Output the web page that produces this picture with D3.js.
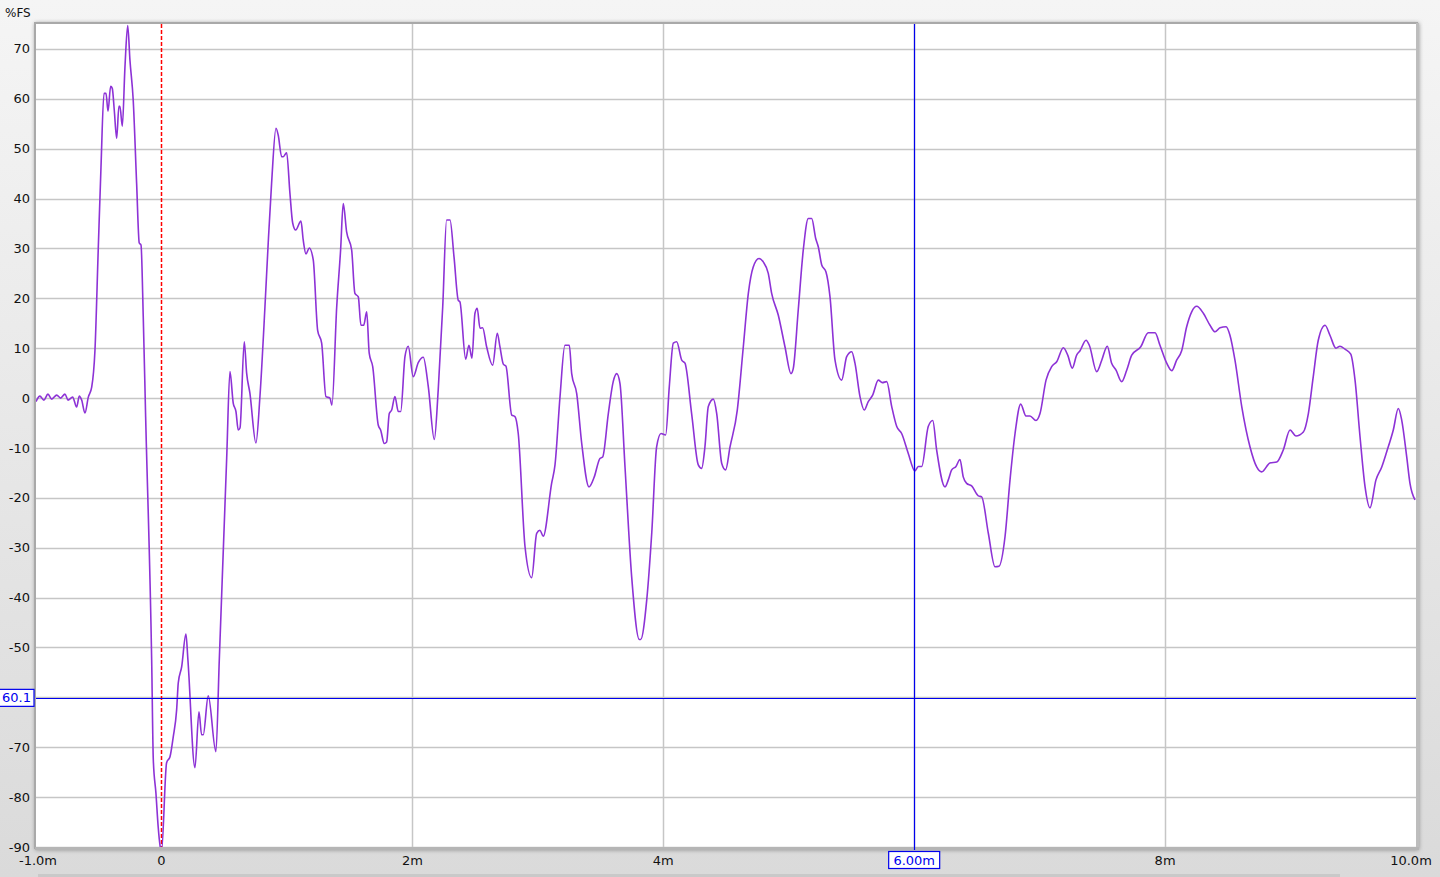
<!DOCTYPE html>
<html><head><meta charset="utf-8">
<script src="https://cdn.jsdelivr.net/npm/d3@7"></script>
<style>html,body{margin:0;padding:0;overflow:hidden;background:#e6e6e6}</style>
</head><body>
<svg id="chart" width="1440" height="877"></svg>
<script>
// ---- data (distance in metres, level in %FS) ----
const distM = [-1.0,-0.969,-0.937,-0.905,-0.875,-0.835,-0.804,-0.769,-0.745,-0.708,-0.676,-0.655,-0.636,-0.610,-0.583,-0.556,-0.530,-0.504,-0.482,-0.458,-0.442,-0.426,-0.405,-0.392,-0.376,-0.357,-0.339,-0.331,-0.312,-0.291,-0.269,-0.251,-0.225,-0.198,-0.177,-0.163,-0.145,-0.126,-0.078,-0.065,-0.044,-0.026,-0.012,0.0,0.041,0.068,0.094,0.121,0.134,0.161,0.195,0.211,0.267,0.299,0.320,0.333,0.373,0.434,0.461,0.520,0.546,0.572,0.594,0.612,0.626,0.660,0.679,0.705,0.753,0.785,0.825,0.851,0.878,0.913,0.931,0.958,0.971,0.998,1.024,1.046,1.070,1.112,1.130,1.152,1.178,1.210,1.245,1.277,1.311,1.343,1.359,1.397,1.428,1.449,1.476,1.516,1.542,1.569,1.590,1.612,1.636,1.656,1.684,1.728,1.747,1.776,1.795,1.816,1.835,1.861,1.888,1.907,1.941,1.967,2.007,2.047,2.087,2.127,2.175,2.206,2.242,2.273,2.300,2.332,2.366,2.379,2.425,2.451,2.475,2.499,2.517,2.539,2.560,2.592,2.640,2.677,2.698,2.725,2.746,2.792,2.818,2.844,2.898,2.951,2.991,3.017,3.043,3.110,3.137,3.177,3.216,3.251,3.270,3.310,3.350,3.408,3.450,3.495,3.517,3.562,3.601,3.629,3.655,3.695,3.748,3.809,3.820,3.868,3.908,3.947,3.982,4.019,4.048,4.080,4.107,4.147,4.173,4.226,4.279,4.306,4.332,4.359,4.399,4.426,4.466,4.497,4.532,4.590,4.638,4.678,4.717,4.763,4.797,4.837,4.864,4.917,4.970,5.018,5.036,5.076,5.116,5.156,5.183,5.215,5.236,5.263,5.297,5.329,5.369,5.422,5.462,5.502,5.528,5.568,5.602,5.634,5.669,5.714,5.746,5.781,5.821,5.861,5.900,5.953,6.006,6.033,6.060,6.112,6.148,6.179,6.246,6.272,6.299,6.333,6.365,6.391,6.418,6.458,6.511,6.538,6.591,6.644,6.676,6.724,6.764,6.804,6.849,6.891,6.923,6.971,7.003,7.051,7.096,7.136,7.189,7.224,7.260,7.295,7.322,7.370,7.396,7.455,7.495,7.539,7.574,7.609,7.654,7.694,7.734,7.806,7.866,7.920,7.959,8.013,8.053,8.092,8.132,8.172,8.212,8.252,8.305,8.358,8.398,8.438,8.486,8.517,8.557,8.611,8.677,8.730,8.770,8.836,8.890,8.942,8.996,9.043,9.102,9.142,9.181,9.221,9.275,9.314,9.362,9.394,9.434,9.480,9.514,9.554,9.594,9.633,9.681,9.727,9.766,9.819,9.859,9.886,9.926,9.952,9.992];
const levelFS = [-0.7,0.4,-0.4,0.8,-0.2,0.6,0,0.8,-0.4,0.2,-1.8,0.4,-0.4,-3.0,0.2,2.2,9.6,29.7,46.3,61.1,61.1,57.5,62.5,62.1,57.7,52.1,58.5,58.5,54.5,66.3,74.7,67.7,59.7,43.1,31.1,30.7,16.2,-3.8,-52.5,-72.5,-79.2,-86.0,-89.6,-91.0,-73.1,-71.9,-67.9,-62.5,-57.1,-53.9,-47.3,-52.5,-74.1,-62.9,-67.5,-67.5,-59.7,-70.9,-52.5,-12.0,5.3,-1.0,-2.7,-6.4,-6.0,11.3,5.0,1.0,-9.0,0.3,18.3,31.1,43.1,54.1,52.7,48.4,48.4,49.2,41.1,35.1,33.7,35.5,31.7,28.9,30.1,27.7,13.6,11.0,0.3,0,-1.4,18.3,29.7,39.0,33.3,29.7,21.0,20.3,14.6,14.6,17.3,9.0,6.3,-5.4,-6.4,-9.1,-8.8,-3.1,-2.4,0.3,-2.7,-2.7,8.3,10.4,4.3,7.1,8.2,2.3,-8.3,1.6,18.3,35.7,35.7,28.3,19.6,19.3,7.8,10.6,8.0,17.0,18.0,14.0,14.1,10.3,6.6,13.0,10.3,6.8,6.4,-3.4,-3.7,-7.1,-29.8,-36.0,-27.1,-26.5,-27.7,-17.1,-13.4,0.3,10.6,10.6,4.9,0.9,-9.1,-17.8,-15.8,-12.1,-11.8,-3.1,3.3,4.9,2.9,-13.8,-35.8,-48.4,-48.4,-40.5,-27.1,-9.8,-7.1,-7.4,2.3,11.0,11.3,7.6,7.0,-3.1,-13.4,-14.1,-9.8,-1.7,-0.2,-3.1,-13.1,-14.4,-9.8,-2.4,10.3,21.0,26.3,28.0,27.3,25.0,21.0,16.6,10.3,4.9,5.9,17.7,29.7,36.0,36.0,32.0,30.3,26.7,25.3,20.3,7.6,3.6,8.3,9.3,7.0,0.3,-2.4,-0.7,0.6,3.6,3.1,3.3,-1.7,-5.7,-7.1,-11.1,-14.6,-13.7,-13.7,-5.7,-4.5,-10.4,-17.8,-16.4,-14.4,-13.7,-12.3,-15.8,-17.1,-17.6,-19.6,-19.8,-27.1,-33.8,-33.7,-27.8,-16.4,-7.1,-1.2,-3.6,-3.6,-4.5,-3.1,3.6,6.3,7.3,10.1,8.6,6.0,8.6,9.5,11.6,10.6,5.3,7.6,10.4,7.0,5.6,3.3,5.6,8.6,10.3,13.1,13.1,10.6,7.0,5.5,7.6,9.5,14.3,17.3,18.4,17.0,14.6,13.3,14.1,14.3,12.6,7.6,-1.7,-9.8,-13.8,-14.8,-13.0,-12.8,-10.4,-6.4,-7.6,-6.8,-3.1,4.3,11.6,14.6,12.6,10.0,10.4,9.8,8.8,3.6,-7.8,-17.8,-22.0,-16.4,-13.8,-10.8,-6.4,-2.1,-4.4,-11.8,-17.1,-20.4];

const yGridValues = [70,60,50,40,30,20,10,0,-10,-20,-30,-40,-50,-60,-70,-80,-90];
// -60 label is hidden behind the cursor readout in the reference
const yTickValues = [70,60,50,40,30,20,10,0,-10,-20,-30,-40,-50,-70,-80,-90];
const yTickLabels = ["70","60","50","40","30","20","10","0","-10","-20","-30","-40","-50","-70","-80","-90"];
const xGridValues = [2,4,6,8];
const xTickValues = [-1,0,2,4,8,10];
const xTickLabels = ["-1.0m","0","2m","4m","8m","10.0m"];
const yUnitLabel = "%FS";
const cursorX = 6.0, cursorXLabel = "6.00m";
const cursorY = -60.1, cursorYLabel = "60.1";
const xDomain = [-1, 10], yDomain = [-90, 75];

// ---- layout ----
const W = 1440, H = 877;
const L = 36, R = 1416, T = 24, B = 847;
const svg = d3.select("#chart");
const defs = svg.append("defs");
const bg = defs.append("linearGradient").attr("id","bg").attr("x1",0).attr("y1",0).attr("x2",0).attr("y2",1);
bg.append("stop").attr("offset","0%").attr("stop-color","#f5f5f5");
bg.append("stop").attr("offset","100%").attr("stop-color","#dadada");
const sh = defs.append("filter").attr("id","sh").attr("x","-5%").attr("y","-5%").attr("width","110%").attr("height","110%");
sh.append("feGaussianBlur").attr("stdDeviation",2);
defs.append("clipPath").attr("id","clip").append("rect").attr("x",L).attr("y",T).attr("width",R-L).attr("height",B-T);

svg.append("rect").attr("width",W).attr("height",H).attr("fill","url(#bg)");
svg.append("rect").attr("x",38).attr("y",874).attr("width",1302).attr("height",3).attr("fill","#c9c9c9");

const x = d3.scaleLinear().domain(xDomain).range([L, R]);
const y = d3.scaleLinear().domain(yDomain).range([B, T]);

// frame with shadow
svg.append("rect").attr("x",L-1).attr("y",T-1).attr("width",R-L+4).attr("height",B-T+4)
  .attr("fill","#8c8c8c").attr("filter","url(#sh)");
svg.append("rect").attr("x",L).attr("y",T).attr("width",R-L).attr("height",B-T).attr("fill","#ffffff");

// grid
const g = svg.append("g");
g.selectAll("line.hg").data(yGridValues).join("line").attr("class","hg")
  .attr("x1",L).attr("x2",R).attr("y1",d=>Math.round(y(d))+0.5).attr("y2",d=>Math.round(y(d))+0.5)
  .attr("stroke","#c6c6c6").attr("stroke-width",1.5);
g.selectAll("line.vg").data(xGridValues).join("line").attr("class","vg")
  .attr("y1",T).attr("y2",B).attr("x1",d=>Math.round(x(d))+0.5).attr("x2",d=>Math.round(x(d))+0.5)
  .attr("stroke","#c6c6c6").attr("stroke-width",1.5);

// border of plot
svg.append("rect").attr("x",L-1).attr("y",T-1).attr("width",R-L+2).attr("height",B-T+2)
  .attr("fill","none").attr("stroke","#a9a9a9").attr("stroke-width",2);
svg.append("line").attr("x1",R+1.5).attr("x2",R+1.5).attr("y1",T-1).attr("y2",B+2).attr("stroke","#bdbdbd").attr("stroke-width",3);
svg.append("line").attr("x1",L-1).attr("x2",R+3).attr("y1",B+1.5).attr("y2",B+1.5).attr("stroke","#b5b5b5").attr("stroke-width",3);

// red dashed zero line
svg.append("line").attr("x1",Math.round(x(0))+0.5).attr("x2",Math.round(x(0))+0.5).attr("y1",T).attr("y2",B)
  .attr("stroke","#ff0000").attr("stroke-width",1.5).attr("stroke-dasharray","4,2");

// curve
const pts = distM.map((d,i)=>[d, levelFS[i]]);
const line = d3.line().x(d=>x(d[0])).y(d=>y(d[1])).curve(d3.curveMonotoneX);
svg.append("path").attr("d", line(pts)).attr("clip-path","url(#clip)")
  .attr("fill","none").attr("stroke","#8d32d6").attr("stroke-width",1.6).attr("stroke-linejoin","round");

// cursors
svg.append("line").attr("x1",Math.round(x(cursorX))+0.5).attr("x2",Math.round(x(cursorX))+0.5).attr("y1",T).attr("y2",B+3)
  .attr("stroke","#0000ee").attr("stroke-width",1.2);
svg.append("line").attr("x1",L).attr("x2",R).attr("y1",Math.round(y(cursorY))+0.5).attr("y2",Math.round(y(cursorY))+0.5)
  .attr("stroke","#0000ee").attr("stroke-width",1.2);

const font = "'DejaVu Sans', 'Liberation Sans', sans-serif";
// y tick labels
svg.append("g").selectAll("text").data(yTickValues).join("text")
  .attr("x",30).attr("y",d=>y(d)).attr("dy","0.35em").attr("text-anchor","end")
  .attr("font-family",font).attr("font-size",13).attr("fill","#111")
  .text((d,i)=>yTickLabels[i]);
svg.append("text").attr("x",5).attr("y",17).attr("font-family",font).attr("font-size",12).attr("fill","#111").text(yUnitLabel);

// x tick labels
svg.append("g").selectAll("text").data(xTickValues).join("text")
  .attr("x",(d,i)=> i===xTickValues.length-1 ? x(d)-5 : x(d)+ (i===0?2:0)).attr("y",860).attr("dy","0.35em").attr("text-anchor","middle")
  .attr("font-family",font).attr("font-size",13).attr("fill","#111")
  .text((d,i)=>xTickLabels[i]);

// cursor labels
const cxp = x(cursorX);
svg.append("rect").attr("x",cxp-25.5).attr("y",851.5).attr("width",51).attr("height",17).attr("fill","#fff").attr("stroke","#0000ee").attr("stroke-width",1.2);
svg.append("text").attr("x",cxp).attr("y",860).attr("dy","0.35em").attr("text-anchor","middle")
  .attr("font-family",font).attr("font-size",13).attr("fill","#0000ee").text(cursorXLabel);
const cyp = y(cursorY);
svg.append("rect").attr("x",-1).attr("y",cyp-8.5).attr("width",35).attr("height",17).attr("fill","#fff").attr("stroke","#0000ee").attr("stroke-width",1.2);
svg.append("text").attr("x",31).attr("y",cyp).attr("dy","0.35em").attr("text-anchor","end")
  .attr("font-family",font).attr("font-size",13).attr("fill","#0000ee").text(cursorYLabel);
</script>
</body></html>
